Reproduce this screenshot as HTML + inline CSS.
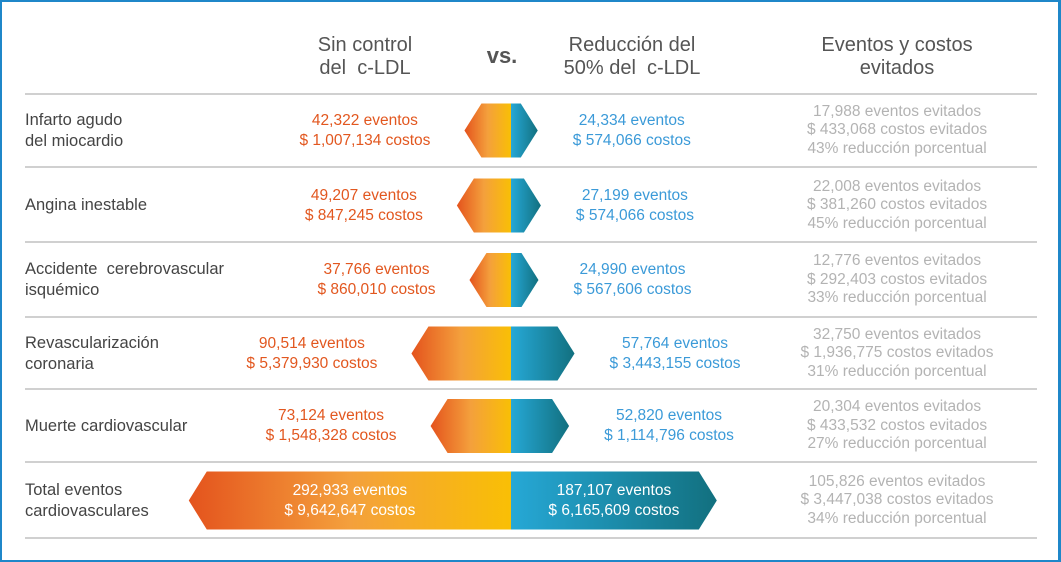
<!DOCTYPE html>
<html><head><meta charset="utf-8"><style>
body{margin:0;background:#fff}
#wrap{position:relative;width:1061px;height:562px;overflow:hidden;font-family:"Liberation Sans",sans-serif;box-sizing:border-box;border:2px solid #1f87c9;border-right-width:3px}
.t{position:absolute;white-space:nowrap}
.hdr{font-size:20px;color:#555;text-align:center;line-height:23px}
.lab{font-size:16.5px;color:#444;line-height:21px}
.blk{font-size:15.5px;text-align:center;line-height:20px}
.gray{font-size:15.5px;color:#b3b3b3;text-align:center;line-height:18.5px}
</style></head><body>
<div id="wrap">
<svg id="svg" width="1061" height="562" style="position:absolute;left:-2px;top:-2px">
<defs>
<linearGradient id="go" x1="0" x2="1" y1="0" y2="0"><stop offset="0" stop-color="#e4531d"/><stop offset="0.5" stop-color="#f4a03c"/><stop offset="1" stop-color="#f9bf05"/></linearGradient>
<linearGradient id="gb" x1="0" x2="1" y1="0" y2="0"><stop offset="0" stop-color="#26a8d6"/><stop offset="1" stop-color="#12707f"/></linearGradient>
</defs>
</svg>
<div class="t hdr" style="left:283px;top:32px;width:160px">Sin control<br>del&nbsp; c-LDL</div>
<div class="t hdr" style="left:470px;top:42px;width:60px;font-weight:bold;font-size:22px">vs.</div>
<div class="t hdr" style="left:535px;top:32px;width:190px">Reducción del<br>50% del&nbsp; c-LDL</div>
<div class="t hdr" style="left:790px;top:32px;width:210px">Eventos y costos<br>evitados</div>
<div id="rows"></div>
</div>
<script>
const categories=["Infarto agudo<br>del miocardio","Angina inestable","Accidente&nbsp; cerebrovascular<br>isquémico","Revascularización<br>coronaria","Muerte cardiovascular","Total eventos<br>cardiovasculares"];
const eventsBase=[42322,49207,37766,90514,73124,292933];
const costsBase=["1,007,134","847,245","860,010","5,379,930","1,548,328","9,642,647"];
const eventsRed=[24334,27199,24990,57764,52820,187107];
const costsRed=["574,066","574,066","567,606","3,443,155","1,114,796","6,165,609"];
const avoidedEvents=["17,988","22,008","12,776","32,750","20,304","105,826"];
const avoidedCosts=["433,068","381,260","292,403","1,936,775","433,532","3,447,038"];
const reductionPct=[43,45,33,31,27,34];

const svg=document.getElementById('svg');
const wrap=document.getElementById('wrap');
const NS='http://www.w3.org/2000/svg';
const cx=511, rowTop=[94,169,243,318,390,463], rowH=[73,73,74,71,72,75];
const xScale=v=>v*1.1e-3;
const fmt=n=>n.toLocaleString('en-US');
function line(y){const l=document.createElementNS(NS,'rect');l.setAttribute('x',25);l.setAttribute('y',y-1);l.setAttribute('width',1012);l.setAttribute('height',2);l.setAttribute('fill','#d0d0d0');


svg.appendChild(l);}
line(94);
categories.forEach((c,i)=>{
  const mid=rowTop[i]+rowH[i]/2; const total=i===5;
  line(rowTop[i]+rowH[i]);
  const h=total?58:54, tip=total?18:17;
  const wl=xScale(eventsBase[i]), wr=xScale(eventsRed[i]);
  const L=cx-wl, R=cx+wr, y0=mid-h/2, y1=mid+h/2;
  const pl=document.createElementNS(NS,'polygon');
  pl.setAttribute('points',`${cx},${y0} ${L+tip},${y0} ${L},${mid} ${L+tip},${y1} ${cx},${y1}`);
  pl.setAttribute('fill','url(#go)');
  
  
  svg.appendChild(pl);
  const pr=document.createElementNS(NS,'polygon');
  pr.setAttribute('points',`${cx},${y0} ${R-tip},${y0} ${R},${mid} ${R-tip},${y1} ${cx},${y1}`);
  pr.setAttribute('fill','url(#gb)');
  
  
  svg.appendChild(pr);
  const lab=document.createElement('div');lab.className='t lab';lab.style.left='23px';
  lab.innerHTML=c;
  
  
  wrap.appendChild(lab);lab.style.top=(mid-2-lab.offsetHeight/2)+'px';
  const b=document.createElement('div');b.className='t blk';
  b.style.color=total?'#fff':'#e2571f';
  b.innerHTML=fmt(eventsBase[i])+' eventos<br>$ '+costsBase[i]+' costos';
  
  
  wrap.appendChild(b);
  const bw=b.offsetWidth;
  b.style.left=(total?(L+cx)/2-bw/2-2:L-34-bw-2)+'px';b.style.top=(mid-2-b.offsetHeight/2)+'px';
  const r=document.createElement('div');r.className='t blk';
  r.style.color=total?'#fff':'#3b9ad8';
  r.innerHTML=fmt(eventsRed[i])+' eventos<br>$ '+costsRed[i]+' costos';
  
  
  wrap.appendChild(r);
  const rw=r.offsetWidth;
  r.style.left=(total?(cx+R)/2-rw/2-2:R+33)+'px';r.style.top=(mid-2-r.offsetHeight/2)+'px';
  const g=document.createElement('div');g.className='t gray';
  g.innerHTML=avoidedEvents[i]+' eventos evitados<br>$ '+avoidedCosts[i]+' costos evitados<br>'+reductionPct[i]+'% reducción porcentual';
  
  
  wrap.appendChild(g);
  g.style.left=(895-g.offsetWidth/2)+'px';g.style.top=(mid-2-g.offsetHeight/2)+'px';
});
</script>
</body></html>
